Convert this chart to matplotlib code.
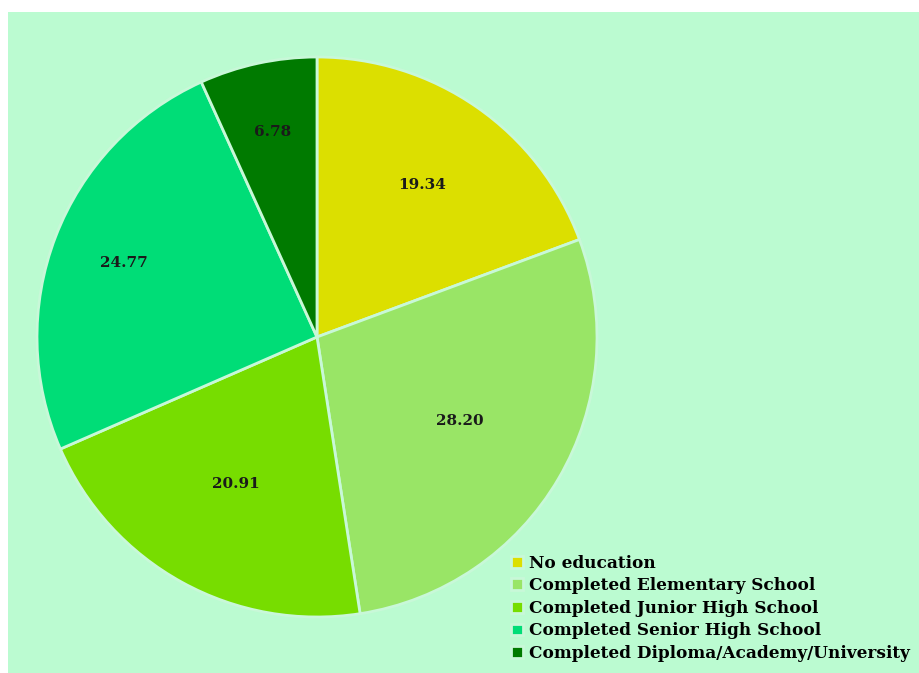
import numpy as np
import matplotlib.pyplot as plt
from matplotlib.patches import Rectangle

# education level shares (percent)
categories = ["No education",
              "Completed Elementary School",
              "Completed Junior High School",
              "Completed Senior High School",
              "Completed Diploma/Academy/University"]
values = [19.34, 28.20, 20.91, 24.77, 6.78]
colors = ["#dcdf00", "#99e566", "#77dd00", "#00dd77", "#007a00"]

bg = "#bbfbd1"
# radial position of each value label (fraction of radius)
label_r = [0.66, 0.59, 0.60, 0.74, 0.75]

fig = plt.figure(figsize=(9.19, 6.73), dpi=100)
fig.patch.set_facecolor("white")
# mint panel behind the chart
fig.patches.append(Rectangle((8 / 919, 0), 1, 1 - 12 / 673, transform=fig.transFigure,
                             facecolor=bg, edgecolor="none", zorder=-1))

ax = fig.add_axes([37 / 919, (673 - 337 - 280) / 673, 560 / 919, 560 / 673])
ax.set_facecolor("none")

wedges, texts, autotexts = ax.pie(values, colors=colors, startangle=90, counterclock=False,
                                  radius=1, autopct="%.2f", pctdistance=0.66,
                                  wedgeprops=dict(edgecolor="#c8f8d8", linewidth=2))
for w, t, r in zip(wedges, autotexts, label_r):
    ang = np.deg2rad((w.theta1 + w.theta2) / 2)
    t.set_position((r * np.cos(ang), r * np.sin(ang)))
    t.set_fontfamily("DejaVu Serif")
    t.set_fontweight("bold")
    t.set_fontsize(11)
    t.set_color("#1a1a1a")
ax.set_xlim(-1, 1)
ax.set_ylim(-1, 1)
ax.set_aspect("equal")

fig.legend(wedges, categories, loc="lower left", bbox_to_anchor=(511 / 919, 11 / 673),
           frameon=False, borderpad=0, borderaxespad=0,
           handlelength=0.7, handleheight=0.7, handletextpad=0.35, labelspacing=0.33,
           prop=dict(family="DejaVu Serif", weight="bold", size=12.2))

fig.savefig("out.png", dpi=100, facecolor=fig.get_facecolor())
